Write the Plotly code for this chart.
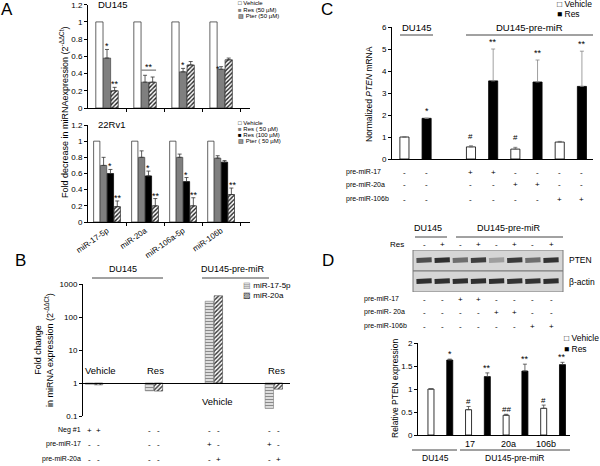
import plotly.graph_objects as go

W, H = 600, 466
FONT = "Liberation Sans, Arial, sans-serif"

# ---------------- data ----------------
# Panel A
a_mirs = ["miR-17-5p", "miR-20a", "miR-106a-5p", "miR-106b"]
du_vehicle = [1.0, 1.0, 1.0, 1.0]
du_res50 = [0.58, 0.30, 0.42, 0.45]
du_res50_err = [0.10, 0.08, 0.04, 0.03]
du_pter = [0.20, 0.30, 0.50, 0.56]
du_pter_err = [0.04, 0.06, 0.04, 0.02]

rv_vehicle = [1.0, 1.0, 1.0, 1.0]
rv_res50 = [0.70, 0.80, 0.80, 0.79]
rv_res50_err = [0.10, 0.08, 0.04, 0.03]
rv_res100 = [0.60, 0.57, 0.50, 0.74]
rv_res100_err = [0.05, 0.06, 0.05, 0.02]
rv_pter = [0.19, 0.20, 0.20, 0.34]
rv_pter_err = [0.07, 0.09, 0.10, 0.08]

# Panel B
b_groups = ["Vehicle", "Res", "Vehicle", "Res"]
b_cells = ["DU145", "DU145", "DU145-pre-miR", "DU145-pre-miR"]
b_mir17 = [0.92, 0.58, 300, 0.17]
b_mir20a = [0.88, 0.57, 440, 0.65]
b_rows = ["Neg #1", "pre-miR-17", "pre-miR-20a"]
b_marks = [["+", "+", "-", "-", "-", "-", "-", "-"],
           ["-", "-", "-", "-", "+", "-", "+", "-"],
           ["-", "-", "-", "-", "-", "+", "-", "+"]]

# Panel C
c_groups = ["DU145", "pre-miR-17", "pre-miR-20a", "pre-miR-106b"]
c_vehicle = [1.0, 0.55, 0.45, 0.77]
c_vehicle_err = [0.0, 0.05, 0.08, 0.03]
c_res = [1.85, 3.55, 3.50, 3.30]
c_res_err = [0.0, 1.45, 1.00, 1.60]
c_vehicle_sig = ["", "#", "#", ""]
c_res_sig = ["*", "**", "**", "**"]

# Panel D
d_groups = ["DU145", "17", "20a", "106b"]
d_vehicle = [1.0, 0.55, 0.43, 0.58]
d_vehicle_err = [0.0, 0.07, 0.02, 0.07]
d_res = [1.63, 1.27, 1.39, 1.53]
d_res_err = [0.02, 0.08, 0.15, 0.05]
d_vehicle_sig = ["", "#", "##", "#"]
d_res_sig = ["*", "**", "**", "**"]
pten_band = [0.72, 0.88, 0.55, 0.80, 0.30, 0.82, 0.55, 0.86]
actin_band = [0.88, 0.88, 0.88, 0.88, 0.88, 0.86, 0.86, 0.88]
pre_rows = ["pre-miR-17", "pre-miR- 20a", "pre-miR-106b"]

# ---------------- helpers ----------------
def X(px):
    return px / W


def Y(py):
    return 1 - py / H


ann = []
shapes = []


def txt(t, x, y, size=8, xa="center", ya="middle", xref="paper", yref="paper",
        angle=0, color="black", px=True, yshift=0):
    if px and xref == "paper":
        x = X(x)
    if px and yref == "paper":
        y = Y(y)
    ann.append(dict(text=t, x=x, y=y, xref=xref, yref=yref, xanchor=xa, yanchor=ya,
                    showarrow=False, textangle=angle, yshift=yshift, borderpad=0,
                    font=dict(size=size, family=FONT, color=color)))


def hline(x0, x1, y, color="#444", w=1):
    shapes.append(dict(type="line", xref="paper", yref="paper", x0=X(x0), x1=X(x1),
                       y0=Y(y), y1=Y(y), line=dict(color=color, width=w)))


def err(arr, color="#333"):
    return dict(type="data", array=arr, arrayminus=[0] * len(arr), symmetric=False,
                color=color, thickness=0.8, width=2)


fig = go.Figure()

# ---------------- Panel A (top: DU145) ----------------
g = list(range(len(a_mirs)))
wA = 0.19
fig.add_trace(go.Bar(x=[i - 0.2 for i in g], y=du_vehicle, width=wA, xaxis="x", yaxis="y",
                     marker=dict(color="white", line=dict(color="#222", width=0.7))))
fig.add_trace(go.Bar(x=g, y=du_res50, width=wA, xaxis="x", yaxis="y",
                     marker=dict(color="#7f7f7f", line=dict(color="#444", width=0.7)),
                     error_y=err(du_res50_err)))
fig.add_trace(go.Bar(x=[i + 0.2 for i in g], y=du_pter, width=wA, xaxis="x", yaxis="y",
                     marker=dict(color="white", line=dict(color="#222", width=0.7),
                                 pattern=dict(shape="/", fgcolor="#222", bgcolor="white",
                                              size=3, solidity=0.45)),
                     error_y=err(du_pter_err)))

# ---------------- Panel A (bottom: 22Rv1) ----------------
wB = 0.165
offs = [-0.27, -0.09, 0.09, 0.27]
fig.add_trace(go.Bar(x=[i + offs[0] for i in g], y=rv_vehicle, width=wB, xaxis="x2", yaxis="y2",
                     marker=dict(color="white", line=dict(color="#222", width=0.7))))
fig.add_trace(go.Bar(x=[i + offs[1] for i in g], y=rv_res50, width=wB, xaxis="x2", yaxis="y2",
                     marker=dict(color="#7f7f7f", line=dict(color="#444", width=0.7)),
                     error_y=err(rv_res50_err)))
fig.add_trace(go.Bar(x=[i + offs[2] for i in g], y=rv_res100, width=wB, xaxis="x2", yaxis="y2",
                     marker=dict(color="black", line=dict(color="black", width=0.7)),
                     error_y=err(rv_res100_err)))
fig.add_trace(go.Bar(x=[i + offs[3] for i in g], y=rv_pter, width=wB, xaxis="x2", yaxis="y2",
                     marker=dict(color="white", line=dict(color="#222", width=0.7),
                                 pattern=dict(shape="/", fgcolor="#222", bgcolor="white",
                                              size=3, solidity=0.45)),
                     error_y=err(rv_pter_err)))

# ---------------- Panel B ----------------
gb = list(range(len(b_groups)))
wBB = 0.14
b17x = [i - 0.075 for i in gb]
b20x = [i + 0.075 for i in gb]
fig.add_trace(go.Bar(x=b17x, y=[v - 1 for v in b_mir17], base=1, width=wBB, xaxis="x3", yaxis="y3",
                     marker=dict(color="#d8d8d8", line=dict(color="#777", width=0.6),
                                 pattern=dict(shape="-", fgcolor="#8a8a8a", bgcolor="#e6e6e6",
                                              size=3, solidity=0.4))))
fig.add_trace(go.Bar(x=b20x, y=[v - 1 for v in b_mir20a], base=1, width=wBB, xaxis="x3", yaxis="y3",
                     marker=dict(color="white", line=dict(color="#444", width=0.6),
                                 pattern=dict(shape="/", fgcolor="#333", bgcolor="white",
                                              size=3, solidity=0.45))))

# ---------------- Panel C ----------------
c_vx = [0 if i == 0 else 2 * i + 1 for i in range(len(c_groups))]
c_rx = [x + 1 for x in c_vx]
wC = 0.41
fig.add_trace(go.Bar(x=c_vx, y=c_vehicle, width=wC, xaxis="x4", yaxis="y4",
                     marker=dict(color="white", line=dict(color="black", width=0.8)),
                     error_y=err(c_vehicle_err, "#666")))
fig.add_trace(go.Bar(x=c_rx, y=c_res, width=wC, xaxis="x4", yaxis="y4",
                     marker=dict(color="black", line=dict(color="black", width=0.8)),
                     error_y=err(c_res_err, "#888")))

# ---------------- Panel D bars ----------------
d_vx = [2 * i for i in range(len(d_groups))]
d_rx = [x + 1 for x in d_vx]
wD = 0.32
fig.add_trace(go.Bar(x=d_vx, y=d_vehicle, width=wD, xaxis="x5", yaxis="y5",
                     marker=dict(color="white", line=dict(color="black", width=0.8)),
                     error_y=err(d_vehicle_err, "#444")))
fig.add_trace(go.Bar(x=d_rx, y=d_res, width=wD, xaxis="x5", yaxis="y5",
                     marker=dict(color="black", line=dict(color="black", width=0.8)),
                     error_y=err(d_res_err, "#444")))

# ---------------- Panel D blot ----------------
for row, bands in ((1, pten_band), (0, actin_band)):
    for lane, inten in enumerate(bands):
        lvl = int(215 - 190 * inten)
        fig.add_trace(go.Scatter(x=[lane - 0.42, lane + 0.42], y=[row, row + 0.03],
                                 mode="lines", xaxis="x6", yaxis="y6",
                                 line=dict(color=f"rgb({lvl},{lvl},{lvl})", width=5)))
for y0, y1 in ((0.5, 1.5), (-0.5, 0.5)):
    shapes.append(dict(type="rect", xref="x6 domain", yref="y6", x0=0, x1=1, y0=y0, y1=y1,
                       fillcolor="#d6d6d6", line=dict(color="#7a7a7a", width=1), layer="below"))

for tr in fig.data:
    tr.showlegend = False
    tr.hoverinfo = "skip"

# ---------------- annotations ----------------
# panel letters
txt("A", 7, 9, size=17)
txt("B", 20, 260, size=17)
txt("C", 327, 9, size=17)
txt("D", 328, 260, size=17)

# Panel A texts
txt("DU145", 97, 5, size=9.5, xa="left")
txt("22Rv1", 97, 125, size=9.5, xa="left")
txt("Fold decrease in miRNAexpression (2<sup>-ΔΔCt</sup>)", 64, 113, size=9, angle=-90)
legA1 = [("□", "#000", "Vehicle"), ("■", "#7f7f7f", "Res (50 µM)"), ("▨", "#000", "Pter (50 µM)")]
for k, (sym, col, lab) in enumerate(legA1):
    txt(f'<span style="color:{col}">{sym}</span> {lab}', 237, 3.5 + 6.2 * k, size=6, xa="left")
legA2 = [("□", "#000", "Vehicle"), ("■", "#7f7f7f", "Res ( 50 µM)"), ("■", "#000", "Res (100 µM)"),
         ("▨", "#000", "Pter ( 50 µM)")]
for k, (sym, col, lab) in enumerate(legA2):
    txt(f'<span style="color:{col}">{sym}</span> {lab}', 237, 123 + 5.9 * k, size=6, xa="left")

# A top significance
star = 9
txt("*", 0, du_res50[0] + du_res50_err[0], size=star, xref="x", yref="y", ya="bottom", yshift=-3)
txt("**", 0.2, du_pter[0] + du_pter_err[0], size=star, xref="x", yref="y", ya="bottom", yshift=-3)
top20 = max(du_res50[1] + du_res50_err[1], du_pter[1] + du_pter_err[1]) + 0.06
shapes.append(dict(type="line", xref="x", yref="y", x0=1 - 0.09, x1=1 + 0.29, y0=top20, y1=top20,
                   line=dict(color="#333", width=0.8)))
txt("**", 1.1, top20, size=star, xref="x", yref="y", ya="bottom", yshift=-3)
txt("*", 2, du_res50[2] + du_res50_err[2], size=star, xref="x", yref="y", ya="bottom", yshift=-3)
txt("*", 3 - 0.09, du_res50[3] + du_res50_err[3] - 0.06, size=star, xref="x", yref="y", ya="bottom", yshift=-3)

# A bottom significance
for i in range(4):
    if i < 3:
        txt("*", i + offs[2], rv_res100[i] + rv_res100_err[i], size=star, xref="x2", yref="y2",
            ya="bottom", yshift=-3)
    txt("**", i + offs[3] + 0.03, rv_pter[i] + rv_pter_err[i], size=star, xref="x2", yref="y2",
        ya="bottom", yshift=-3)

# Panel B texts
txt("Fold change<br>in miRNA expression (2<sup>-ΔΔCt</sup>)", 44, 350, size=9, angle=-90)
txt("DU145", 123, 269, size=9)
hline(92, 163, 278)
txt("DU145-pre-miR", 233, 269, size=9)
hline(202, 269, 278)
txt('<span style="color:#777">▤</span> miR-17-5p', 242, 285, size=8, xa="left")
txt('<span style="color:#222">▨</span> miR-20a', 242, 295, size=8, xa="left")
txt("Vehicle", 100, 370, size=9.5)
txt("Res", 155, 370, size=9.5)
txt("Vehicle", 217, 401, size=9.5)
txt("Res", 276, 370, size=9.5)
b_bar_x = []
for i in gb:
    b_bar_x += [b17x[i], b20x[i]]
b_row_y = [430, 444, 459]
for r, lab in enumerate(b_rows):
    txt(lab, 82, b_row_y[r], size=7, xa="right")
    for j, m in enumerate(b_marks[r]):
        txt(m, b_bar_x[j], Y(b_row_y[r]), size=8, xref="x3", px=False)

# Panel C texts
txt("Normalized <i>PTEN</i> mRNA", 369, 94, size=8.5, angle=-90)
txt("DU145", 417, 28, size=9.5)
hline(400, 433, 35)
txt("DU145-pre-miR", 529, 28, size=9.5)
hline(466, 593, 35)
txt("□ Vehicle", 556, 4, size=8.5, xa="left")
txt("■ Res", 556, 14, size=8.5, xa="left")
for i in range(len(c_groups)):
    if c_vehicle_sig[i]:
        txt(c_vehicle_sig[i], c_vx[i], c_vehicle[i] + c_vehicle_err[i] + 0.32, size=8,
            xref="x4", yref="y4", ya="bottom", yshift=-3)
    if c_res_sig[i]:
        txt(c_res_sig[i], c_rx[i], c_res[i] + c_res_err[i] + 0.2, size=9,
            xref="x4", yref="y4", ya="bottom", yshift=-3)
c_bar_x = []
c_bar_grp = []
for i in range(len(c_groups)):
    c_bar_x += [c_vx[i], c_rx[i]]
    c_bar_grp += [i, i]
c_row_y = [172, 185, 199]
for r in range(3):
    txt(c_groups[r + 1], 345, c_row_y[r], size=7, xa="left")
    for j, x in enumerate(c_bar_x):
        txt("+" if c_bar_grp[j] == r + 1 else "-", x, Y(c_row_y[r]), size=8, xref="x4", px=False)

# Panel D blot texts
txt("DU145", 428, 228, size=9)
hline(415, 447, 237)
txt("DU145-pre-miR", 509, 228, size=9)
hline(456, 563, 237)
txt("Res", 397, 244, size=8)
lanes = list(range(len(pten_band)))
for lane in lanes:
    txt("+" if lane % 2 else "-", lane, Y(244), size=8, xref="x6", px=False)
txt("PTEN", 568, 260, size=8.5, xa="left")
txt("β-actin", 568, 282, size=8.5, xa="left")
d_row_y = [299, 312, 326]
for r in range(3):
    txt(pre_rows[r], 363, d_row_y[r], size=7, xa="left")
    for lane in lanes:
        txt("+" if lane // 2 == r + 1 else "-", lane, Y(d_row_y[r]), size=8, xref="x6", px=False)

# Panel D bar texts
txt("Relative PTEN expression", 395, 389, size=8.5, angle=-90)
txt("□ Vehicle", 563, 338, size=8.5, xa="left")
txt("■ Res", 563, 349, size=8.5, xa="left")
for i in range(len(d_groups)):
    if d_vehicle_sig[i]:
        txt(d_vehicle_sig[i], d_vx[i], d_vehicle[i] + d_vehicle_err[i] + 0.05, size=8,
            xref="x5", yref="y5", ya="bottom", yshift=-3)
    if d_res_sig[i]:
        txt(d_res_sig[i], d_rx[i], d_res[i] + d_res_err[i] + 0.04, size=9,
            xref="x5", yref="y5", ya="bottom", yshift=-3)
    if i > 0:
        txt(d_groups[i], d_vx[i] + 0.1, Y(444), size=9, xref="x5", px=False)
hline(412, 457, 450)
hline(460, 570, 450)
txt("DU145", 435, 458, size=8.5)
txt("DU145-pre-miR", 515, 458, size=8.5)

# ---------------- axes ----------------
def yax(**kw):
    d = dict(showgrid=False, zeroline=False, showline=True, linecolor="black", linewidth=1,
             ticks="outside", ticklen=3, tickwidth=1, tickcolor="black", automargin=False,
             tickfont=dict(size=8, family=FONT, color="black"))
    d.update(kw)
    return d


def xax(**kw):
    d = dict(showgrid=False, zeroline=False, showline=True, linecolor="black", linewidth=1,
             showticklabels=False, ticks="", tickvals=[], fixedrange=True, automargin=False)
    d.update(kw)
    return d


minorA = dict(tickvals=[0.5, 1.5, 2.5, 3.5], ticks="outside", ticklen=3, tickcolor="black")

fig.update_layout(
    template="none",
    width=W, height=H, margin=dict(l=0, r=0, t=0, b=0, pad=0, autoexpand=False),
    paper_bgcolor="white", plot_bgcolor="rgba(0,0,0,0)",
    barmode="overlay", showlegend=False,
    font=dict(family=FONT, size=8, color="black"),
    xaxis=xax(domain=[X(88), X(250)], range=[-0.5, 3.76], anchor="y", minor=minorA),
    yaxis=yax(domain=[Y(108), Y(4.7)], range=[0, 1.2], dtick=0.2, anchor="x"),
    xaxis2=xax(domain=[X(88), X(250)], range=[-0.5, 3.76], anchor="y2", minor=minorA,
               showticklabels=True, tickvals=g, ticktext=a_mirs, tickangle=-35,
               tickfont=dict(size=8, family=FONT, color="black")),
    yaxis2=yax(domain=[Y(222), Y(125)], range=[0, 1.2], dtick=0.2, anchor="x2"),
    xaxis3=xax(domain=[X(82), X(290)], range=[-0.2, 3.27], anchor="free", position=Y(383)),
    yaxis3=yax(domain=[Y(416), Y(284)], type="log", range=[-1, 3], anchor="free", position=X(82),
               tickvals=[0.1, 1, 10, 100, 1000], ticktext=["0.1", "1", "10", "100", "1000"]),
    xaxis4=xax(domain=[X(392), X(593)], range=[-0.56, 8.5], anchor="y4"),
    yaxis4=yax(domain=[Y(159), Y(27)], range=[0, 6], dtick=1, anchor="x4"),
    xaxis5=xax(domain=[X(418), X(570)], range=[-0.69, 7.4], anchor="y5"),
    yaxis5=yax(domain=[Y(435), Y(343)], range=[0, 2], dtick=0.5, anchor="x5"),
    xaxis6=dict(domain=[X(413), X(563)], range=[-0.61, 7.66], visible=False, anchor="y6"),
    yaxis6=dict(domain=[Y(292), Y(250)], range=[-0.5, 1.5], visible=False, anchor="x6"),
    annotations=ann, shapes=shapes,
)

fig.write_html("out.html", config={"displayModeBar": False},
               post_script="document.body.style.margin='0';")
